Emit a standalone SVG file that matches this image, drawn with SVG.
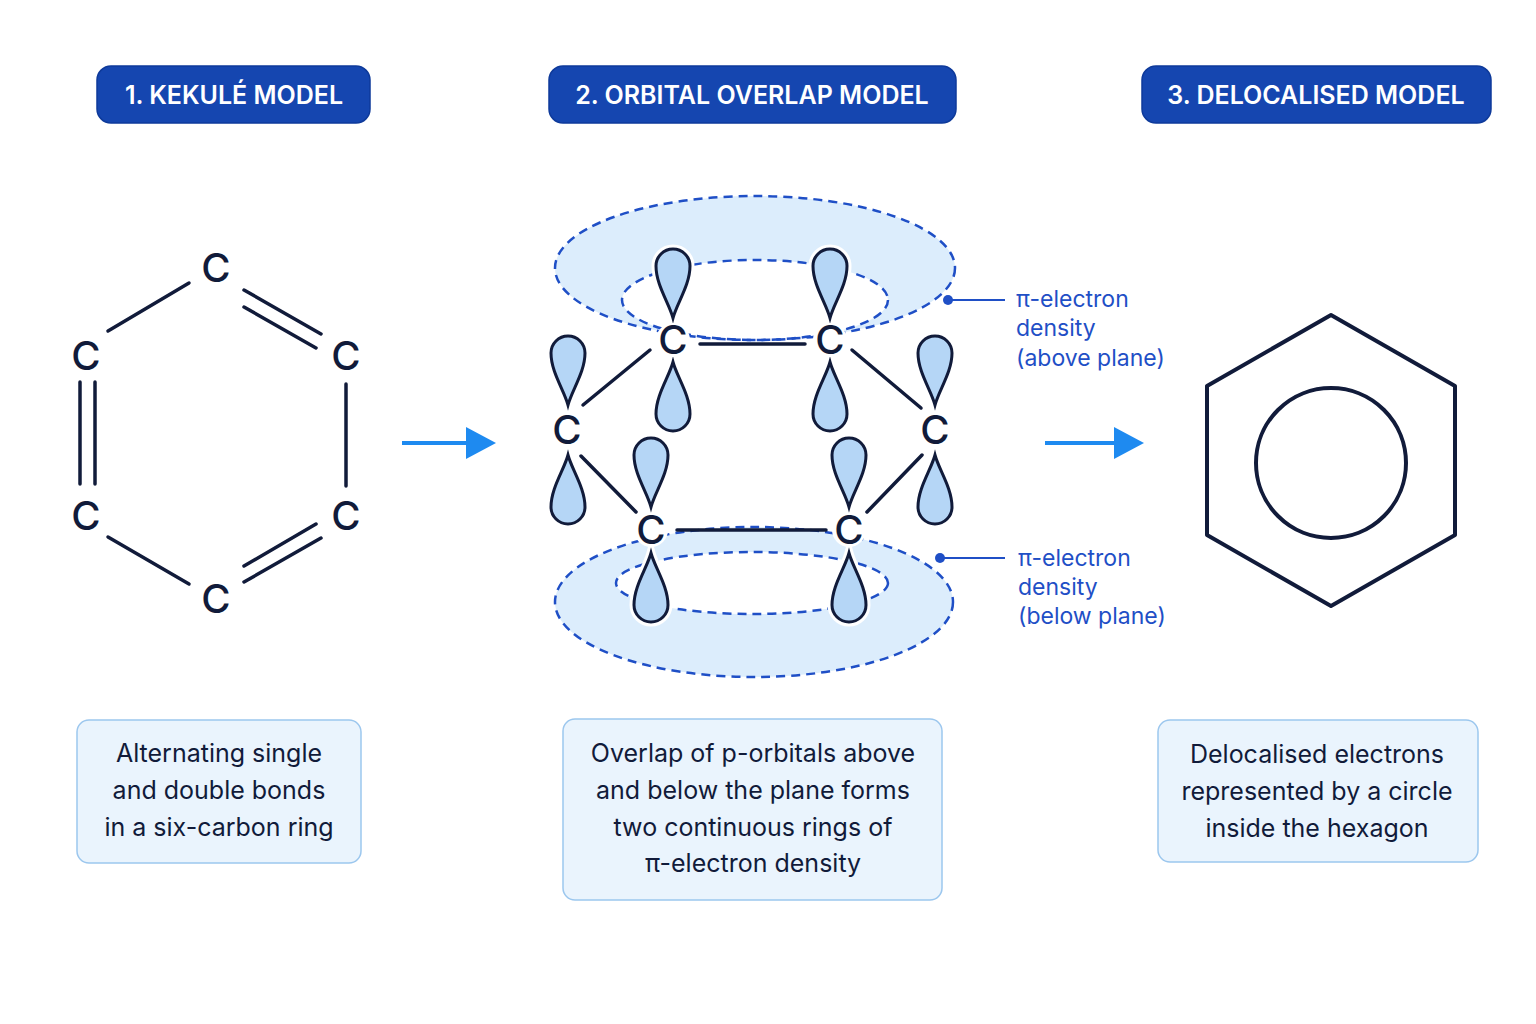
<svg xmlns="http://www.w3.org/2000/svg" width="1536" height="1024" viewBox="0 0 1536 1024">
<style>
.t{font-family:"Inter","Liberation Sans",sans-serif}
.hdr{fill:#1546b0;stroke:#0e3a9a;stroke-width:1.5}
.ht{fill:#fff;font-size:25px;font-weight:600;text-anchor:middle}
.C{fill:#111b3a;font-size:40px;font-weight:500;text-anchor:middle}
.b{stroke:#111b3a;stroke-width:3.5;fill:none;stroke-linecap:round}
.lobe{fill:#b5d6f6;stroke:#111b3a;stroke-width:3;paint-order:normal}
.halo{fill:none;stroke:#fff;stroke-width:9}
.ring{fill:#dcedfc;fill-rule:evenodd;stroke:none}
.d{fill:none;stroke:#1f4fc6;stroke-width:2.5;stroke-dasharray:9 6}
.box{fill:#eaf4fd;stroke:#9cc7ee;stroke-width:1.5}
.bt{fill:#111b3a;font-size:25px;text-anchor:middle}
.lab{fill:#1f4fc6;font-size:23px}
.arr{stroke:#1e8af0;stroke-width:4}
</style>
<defs>
<path id="up" d="M0,0 C-4,-15 -17,-33 -17,-52 A17,17 0 0 1 17,-52 C17,-33 4,-15 0,0Z"/>
</defs>
<rect width="1536" height="1024" fill="#fff"/>

<g id="headers">
<rect class="hdr" x="97" y="66" width="273" height="57" rx="14"/>
<text class="t ht" x="234" y="104">1. KEKULÉ MODEL</text>
<rect class="hdr" x="549" y="66" width="407" height="57" rx="14"/>
<text class="t ht" x="752" y="104">2. ORBITAL OVERLAP MODEL</text>
<rect class="hdr" x="1142" y="66" width="349" height="57" rx="14"/>
<text class="t ht" x="1316" y="104">3. DELOCALISED MODEL</text>
</g>

<g id="kekule">
<g class="b">
<line x1="108" y1="331" x2="189" y2="283"/>
<line x1="244" y1="290" x2="321" y2="334"/>
<line x1="244" y1="307" x2="316" y2="348"/>
<line x1="346" y1="384" x2="346" y2="486"/>
<line x1="321" y1="538" x2="244" y2="582"/>
<line x1="316" y1="524" x2="244" y2="566"/>
<line x1="108" y1="537" x2="189" y2="584"/>
<line x1="80" y1="382" x2="80" y2="484"/>
<line x1="95" y1="382" x2="95" y2="484"/>
</g>
<text class="t C" x="216" y="282">C</text>
<text class="t C" x="346" y="370">C</text>
<text class="t C" x="346" y="530">C</text>
<text class="t C" x="216" y="613">C</text>
<text class="t C" x="86" y="530">C</text>
<text class="t C" x="86" y="370">C</text>
</g>

<g id="connectors">
<line class="arr" x1="402" y1="443" x2="470" y2="443"/>
<polygon points="496,443 466,427 466,459" fill="#1e8af0"/>
<line class="arr" x1="1045" y1="443" x2="1118" y2="443"/>
<polygon points="1144,443 1114,427 1114,459" fill="#1e8af0"/>
<line x1="948" y1="300" x2="1005" y2="300" stroke="#1f4fc6" stroke-width="2"/>
<circle cx="948" cy="300" r="5" fill="#1f4fc6"/>
<line x1="940" y1="558" x2="1005" y2="558" stroke="#1f4fc6" stroke-width="2"/>
<circle cx="940" cy="558" r="5" fill="#1f4fc6"/>
</g>

<g id="orbital">
<path class="ring" d="M555,268 A200,72 0 1 0 955,268 A200,72 0 1 0 555,268Z M622,300 A133,40 0 1 1 888,300 A133,40 0 1 1 622,300Z"/>
<path class="ring" d="M555,602 A199,75 0 1 0 953,602 A199,75 0 1 0 555,602Z M616,583 A136,31 0 1 1 888,583 A136,31 0 1 1 616,583Z"/>
<ellipse class="d" cx="755" cy="268" rx="200" ry="72"/>
<ellipse class="d" cx="755" cy="300" rx="133" ry="40"/>
<ellipse class="d" cx="754" cy="602" rx="199" ry="75"/>
<ellipse class="d" cx="752" cy="583" rx="136" ry="31"/>
<g id="lobes">
<g transform="translate(673,318)"><use href="#up" class="halo"/><use href="#up" class="lobe"/></g>
<g transform="translate(673,362) scale(1,-1)"><use href="#up" class="halo"/><use href="#up" class="lobe"/></g>
<g transform="translate(830,318)"><use href="#up" class="halo"/><use href="#up" class="lobe"/></g>
<g transform="translate(830,362) scale(1,-1)"><use href="#up" class="halo"/><use href="#up" class="lobe"/></g>
<g transform="translate(568,405)"><use href="#up" class="halo"/><use href="#up" class="lobe"/></g>
<g transform="translate(568,455) scale(1,-1)"><use href="#up" class="halo"/><use href="#up" class="lobe"/></g>
<g transform="translate(935,405)"><use href="#up" class="halo"/><use href="#up" class="lobe"/></g>
<g transform="translate(935,455) scale(1,-1)"><use href="#up" class="halo"/><use href="#up" class="lobe"/></g>
<g transform="translate(651,507)"><use href="#up" class="halo"/><use href="#up" class="lobe"/></g>
<g transform="translate(651,553) scale(1,-1)"><use href="#up" class="halo"/><use href="#up" class="lobe"/></g>
<g transform="translate(849,507)"><use href="#up" class="halo"/><use href="#up" class="lobe"/></g>
<g transform="translate(849,553) scale(1,-1)"><use href="#up" class="halo"/><use href="#up" class="lobe"/></g>
</g>
<g class="b">
<line x1="700" y1="344" x2="805" y2="344"/>
<line x1="677" y1="530" x2="826" y2="530"/>
<line x1="650" y1="350" x2="583" y2="405"/>
<line x1="581" y1="456" x2="636" y2="512"/>
<line x1="852" y1="350" x2="921" y2="408"/>
<line x1="922" y1="455" x2="867" y2="512"/>
</g>
<g fill="#fff">
<circle cx="673" cy="340" r="17"/><circle cx="830" cy="340" r="17"/>
<circle cx="567" cy="430" r="17"/><circle cx="935" cy="430" r="17"/>
<circle cx="651" cy="530" r="17"/><circle cx="849" cy="530" r="17"/>
</g>
<text class="t C" x="673" y="354">C</text>
<text class="t C" x="830" y="354">C</text>
<text class="t C" x="567" y="444">C</text>
<text class="t C" x="935" y="444">C</text>
<text class="t C" x="651" y="544">C</text>
<text class="t C" x="849" y="544">C</text>
<text class="t lab" x="1016" y="307">π-electron</text>
<text class="t lab" x="1016" y="336">density</text>
<text class="t lab" x="1016" y="366">(above plane)</text>
<text class="t lab" x="1018" y="566">π-electron</text>
<text class="t lab" x="1018" y="595">density</text>
<text class="t lab" x="1018" y="624">(below plane)</text>
</g>

<g id="delocalised">
<polygon points="1331,315 1455,386 1455,535 1331,606 1207,535 1207,386" fill="none" stroke="#111b3a" stroke-width="4" stroke-linejoin="round"/>
<circle cx="1331" cy="463" r="75" fill="none" stroke="#111b3a" stroke-width="4"/>
</g>

<g id="captions">
<rect class="box" x="77" y="720" width="284" height="143" rx="12"/>
<text class="t bt" x="219" y="762">Alternating single</text>
<text class="t bt" x="219" y="799">and double bonds</text>
<text class="t bt" x="219" y="836">in a six-carbon ring</text>
<rect class="box" x="563" y="719" width="379" height="181" rx="12"/>
<text class="t bt" x="753" y="762">Overlap of p-orbitals above</text>
<text class="t bt" x="753" y="799">and below the plane forms</text>
<text class="t bt" x="753" y="836">two continuous rings of</text>
<text class="t bt" x="753" y="872">π-electron density</text>
<rect class="box" x="1158" y="720" width="320" height="142" rx="12"/>
<text class="t bt" x="1317" y="763">Delocalised electrons</text>
<text class="t bt" x="1317" y="800">represented by a circle</text>
<text class="t bt" x="1317" y="837">inside the hexagon</text>
</g>
</svg>
